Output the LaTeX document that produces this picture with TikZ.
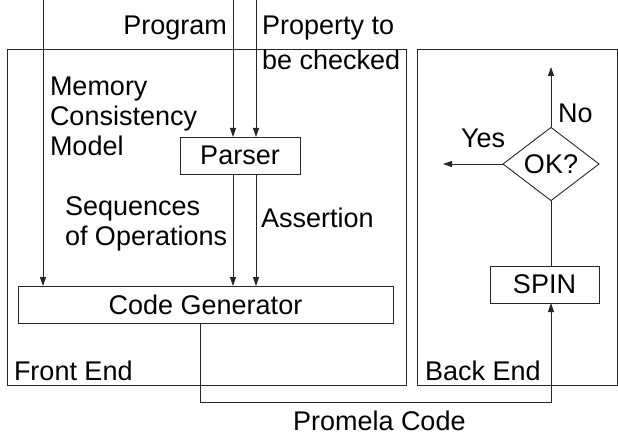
\documentclass[tikz,border=0pt]{standalone}
\usepackage{fontspec}
\setmainfont{Liberation Sans}
\usetikzlibrary{shapes.geometric,arrows.meta}
\begin{document}
\begin{tikzpicture}[x=1pt,y=-1pt,
  every node/.style={inner sep=0pt, outer sep=0pt},
  txt/.style={font=\fontsize{27}{29.8}\selectfont, align=left},
  txtwide/.style={font=\fontsize{27}{35}\selectfont, align=left},
  frame/.style={draw=black!85, line width=0.9pt},
  block/.style={draw=black!85, line width=0.9pt, font=\fontsize{27}{30}\selectfont},
  arr/.style={draw=black!85, line width=0.9pt, -{Triangle[length=9pt,width=6pt]}},
  wire/.style={draw=black!85, line width=0.9pt}]
\useasboundingbox (0,0) rectangle (618,441);

% the two stages
\draw[frame] (7,49) rectangle (406,385);
\draw[frame] (417,49) rectangle (617,385);

% front end blocks
\node[block, minimum width=120pt, minimum height=37pt] (parser) at (240,155.5) {Parser};
\node[block, minimum width=375pt, minimum height=37pt] (cg) at (205.5,304.5) {Code Generator};

% back end blocks
\node[block, minimum width=109pt, minimum height=37pt] (spin) at (544.5,284.5) {SPIN};
\node[block, shape=diamond, minimum width=96pt, minimum height=70pt] (ok) at (551,164) {OK?};

% inputs entering from the top
\coordinate (mtop) at (43,0);
\coordinate (ptop) at (233,0);
\coordinate (qtop) at (256,0);
\draw[arr] (mtop) -- (mtop |- cg.north);
\draw[arr] (ptop) -- (ptop |- parser.north);
\draw[arr] (qtop) -- (qtop |- parser.north);
\draw[arr] (parser.south -| ptop) -- (cg.north -| ptop);
\draw[arr] (parser.south -| qtop) -- (cg.north -| qtop);

% Promela code handed to the back end
\coordinate (turn) at (200,402);
\draw[arr] (cg.south -| turn) -- (turn) -| (spin.south -| ok.center);
\draw[wire] (spin.north -| ok.center) -- (ok.south);

% decision outputs
\coordinate (noend) at (551,67);
\coordinate (yesend) at (443,164);
\draw[arr] (ok.north) -- (noend);
\draw[arr] (ok.west) -- (yesend);

% labels (multi-line labels are placed by the baseline of their last line)
\node[txt, anchor=base east] (lprog) at (227,35) {Program};
\node[txtwide, anchor=base west] (lprop) at (262,70) {Property to\\be checked};
\node[txt, anchor=base west] (lmem) at (50,155.5) {Memory\\Consistency\\Model};
\node[txt, anchor=base west] (lseq) at (65,245) {Sequences\\of Operations};
\node[txt, anchor=base west] (lassert) at (261,227) {Assertion};
\node[txt, anchor=base west] (lfront) at (14,380) {Front End};
\node[txt, anchor=base west] (lback) at (425,380) {Back End};
\node[txt, anchor=base west] (lprom) at (293,430) {Promela Code};
\node[txt, anchor=base west] (lno) at (558,123) {No};
\node[txt, anchor=base west] (lyes) at (461,147) {Yes};
\end{tikzpicture}
\end{document}
